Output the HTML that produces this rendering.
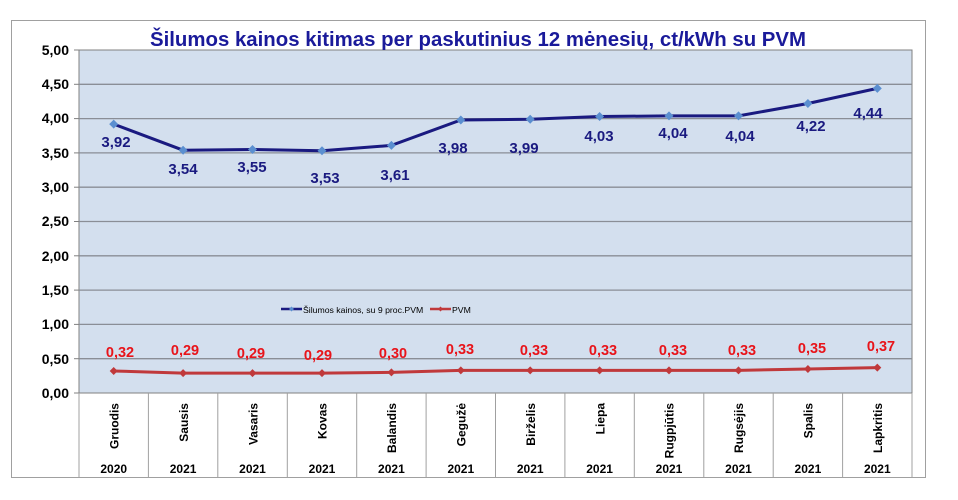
<!DOCTYPE html>
<html><head><meta charset="utf-8"><style>body{margin:0;background:#fff}svg{display:block;font-family:"Liberation Sans",Arial,sans-serif}</style></head><body>
<svg width="958" height="500" xmlns="http://www.w3.org/2000/svg">
<rect x="11.5" y="20.5" width="914" height="457" fill="#fff" stroke="#a0a0a0"/>
<rect x="79" y="50" width="833" height="343" fill="#d3dfee" stroke="#808080"/>
<g stroke="#8a8e96" stroke-width="1.3">
<line x1="79" x2="912" y1="84.3" y2="84.3"/><line x1="79" x2="912" y1="118.6" y2="118.6"/><line x1="79" x2="912" y1="152.9" y2="152.9"/><line x1="79" x2="912" y1="187.2" y2="187.2"/><line x1="79" x2="912" y1="221.5" y2="221.5"/><line x1="79" x2="912" y1="255.8" y2="255.8"/><line x1="79" x2="912" y1="290.1" y2="290.1"/><line x1="79" x2="912" y1="324.4" y2="324.4"/><line x1="79" x2="912" y1="358.7" y2="358.7"/>
</g>
<g stroke="#808080"><line x1="74" x2="79" y1="50" y2="50"/><line x1="74" x2="79" y1="84.3" y2="84.3"/><line x1="74" x2="79" y1="118.6" y2="118.6"/><line x1="74" x2="79" y1="152.9" y2="152.9"/><line x1="74" x2="79" y1="187.2" y2="187.2"/><line x1="74" x2="79" y1="221.5" y2="221.5"/><line x1="74" x2="79" y1="255.8" y2="255.8"/><line x1="74" x2="79" y1="290.1" y2="290.1"/><line x1="74" x2="79" y1="324.4" y2="324.4"/><line x1="74" x2="79" y1="358.7" y2="358.7"/><line x1="74" x2="79" y1="393" y2="393"/></g>
<g font-size="14" font-weight="bold" fill="#000" text-anchor="end">
<text x="69" y="55">5,00</text><text x="69" y="89">4,50</text><text x="69" y="123">4,00</text><text x="69" y="158">3,50</text><text x="69" y="192">3,00</text><text x="69" y="226">2,50</text><text x="69" y="261">2,00</text><text x="69" y="295">1,50</text><text x="69" y="329">1,00</text><text x="69" y="364">0,50</text><text x="69" y="398">0,00</text>
</g>
<g stroke="#a0a0a0">
<line x1="79" x2="79" y1="393" y2="477"/><line x1="148.4" x2="148.4" y1="393" y2="477"/><line x1="217.8" x2="217.8" y1="393" y2="477"/><line x1="287.3" x2="287.3" y1="393" y2="477"/><line x1="356.7" x2="356.7" y1="393" y2="477"/><line x1="426.1" x2="426.1" y1="393" y2="477"/><line x1="495.5" x2="495.5" y1="393" y2="477"/><line x1="564.9" x2="564.9" y1="393" y2="477"/><line x1="634.3" x2="634.3" y1="393" y2="477"/><line x1="703.8" x2="703.8" y1="393" y2="477"/><line x1="773.2" x2="773.2" y1="393" y2="477"/><line x1="842.6" x2="842.6" y1="393" y2="477"/><line x1="912" x2="912" y1="393" y2="477"/>
</g>
<text x="478" y="46" font-size="20.5" font-weight="bold" fill="#1a1a9a" text-anchor="middle" textLength="656" lengthAdjust="spacingAndGlyphs">Šilumos kainos kitimas per paskutinius 12 mėnesių, ct/kWh su PVM</text>
<g font-size="12" font-weight="bold" fill="#000" text-anchor="end">
<text transform="translate(118.5,403) rotate(-90)">Gruodis</text>
<text transform="translate(187.9,403) rotate(-90)">Sausis</text>
<text transform="translate(257.3,403) rotate(-90)">Vasaris</text>
<text transform="translate(326.7,403) rotate(-90)">Kovas</text>
<text transform="translate(396.1,403) rotate(-90)">Balandis</text>
<text transform="translate(465.5,403) rotate(-90)">Gegužė</text>
<text transform="translate(534.9,403) rotate(-90)">Birželis</text>
<text transform="translate(604.3,403) rotate(-90)">Liepa</text>
<text transform="translate(673.7,403) rotate(-90)">Rugpjūtis</text>
<text transform="translate(743.1,403) rotate(-90)">Rugsėjis</text>
<text transform="translate(812.5,403) rotate(-90)">Spalis</text>
<text transform="translate(881.9,403) rotate(-90)">Lapkritis</text>
</g>
<g font-size="12" font-weight="bold" fill="#000" text-anchor="middle">
<text x="113.7" y="473">2020</text><text x="183.1" y="473">2021</text><text x="252.5" y="473">2021</text><text x="322" y="473">2021</text><text x="391.4" y="473">2021</text><text x="460.8" y="473">2021</text><text x="530.2" y="473">2021</text><text x="599.6" y="473">2021</text><text x="669" y="473">2021</text><text x="738.5" y="473">2021</text><text x="807.9" y="473">2021</text><text x="877.3" y="473">2021</text>
</g>
<polyline fill="none" stroke="#1a1a80" stroke-width="3" points="113.7,124.1 183.1,150.2 252.5,149.5 322,150.8 391.4,145.4 460.8,120 530.2,119.3 599.6,116.5 669,115.9 738.5,115.9 807.9,103.5 877.3,88.4"/>
<g fill="#5b8fd0"><path d="M113.7,119.6l4.5,4.5l-4.5,4.5l-4.5,-4.5z"/><path d="M183.1,145.7l4.5,4.5l-4.5,4.5l-4.5,-4.5z"/><path d="M252.5,145l4.5,4.5l-4.5,4.5l-4.5,-4.5z"/><path d="M322,146.3l4.5,4.5l-4.5,4.5l-4.5,-4.5z"/><path d="M391.4,140.9l4.5,4.5l-4.5,4.5l-4.5,-4.5z"/><path d="M460.8,115.5l4.5,4.5l-4.5,4.5l-4.5,-4.5z"/><path d="M530.2,114.8l4.5,4.5l-4.5,4.5l-4.5,-4.5z"/><path d="M599.6,112l4.5,4.5l-4.5,4.5l-4.5,-4.5z"/><path d="M669,111.4l4.5,4.5l-4.5,4.5l-4.5,-4.5z"/><path d="M738.5,111.4l4.5,4.5l-4.5,4.5l-4.5,-4.5z"/><path d="M807.9,99l4.5,4.5l-4.5,4.5l-4.5,-4.5z"/><path d="M877.3,83.9l4.5,4.5l-4.5,4.5l-4.5,-4.5z"/></g>
<g font-size="15" font-weight="bold" fill="#1a1a80" text-anchor="middle">
<text x="116" y="147">3,92</text><text x="183" y="174">3,54</text><text x="252" y="172">3,55</text><text x="325" y="183">3,53</text><text x="395" y="180">3,61</text><text x="453" y="153">3,98</text><text x="524" y="153">3,99</text><text x="599" y="141">4,03</text><text x="673" y="138">4,04</text><text x="740" y="141">4,04</text><text x="811" y="131">4,22</text><text x="868" y="118">4,44</text>
</g>
<polyline fill="none" stroke="#c0393b" stroke-width="3" points="113.7,371 183.1,373.1 252.5,373.1 322,373.1 391.4,372.4 460.8,370.4 530.2,370.4 599.6,370.4 669,370.4 738.5,370.4 807.9,369 877.3,367.6"/>
<g fill="#c0393b"><path d="M113.7,367l4,4l-4,4l-4,-4z"/><path d="M183.1,369.1l4,4l-4,4l-4,-4z"/><path d="M252.5,369.1l4,4l-4,4l-4,-4z"/><path d="M322,369.1l4,4l-4,4l-4,-4z"/><path d="M391.4,368.4l4,4l-4,4l-4,-4z"/><path d="M460.8,366.4l4,4l-4,4l-4,-4z"/><path d="M530.2,366.4l4,4l-4,4l-4,-4z"/><path d="M599.6,366.4l4,4l-4,4l-4,-4z"/><path d="M669,366.4l4,4l-4,4l-4,-4z"/><path d="M738.5,366.4l4,4l-4,4l-4,-4z"/><path d="M807.9,365l4,4l-4,4l-4,-4z"/><path d="M877.3,363.6l4,4l-4,4l-4,-4z"/></g>
<g font-size="14.5" font-weight="bold" fill="#e8141a" text-anchor="middle">
<text x="120" y="357">0,32</text><text x="185" y="355">0,29</text><text x="251" y="358">0,29</text><text x="318" y="360">0,29</text><text x="393" y="358">0,30</text><text x="460" y="354">0,33</text><text x="534" y="355">0,33</text><text x="603" y="355">0,33</text><text x="673" y="355">0,33</text><text x="742" y="355">0,33</text><text x="812" y="353">0,35</text><text x="881" y="351">0,37</text>
</g>
<line x1="281" x2="302" y1="309" y2="309" stroke="#1a1a80" stroke-width="2.5"/><path d="M291.5,306.5l2.5,2.5l-2.5,2.5l-2.5,-2.5z" fill="#5b8fd0"/>
<text x="303" y="313" font-size="8.7" fill="#000">Šilumos kainos, su 9 proc.PVM</text>
<line x1="430" x2="451" y1="309" y2="309" stroke="#c0393b" stroke-width="2.5"/><path d="M440.5,306.5l2.5,2.5l-2.5,2.5l-2.5,-2.5z" fill="#c0393b"/>
<text x="452" y="313" font-size="8.7" fill="#000">PVM</text>
</svg>
</body></html>
